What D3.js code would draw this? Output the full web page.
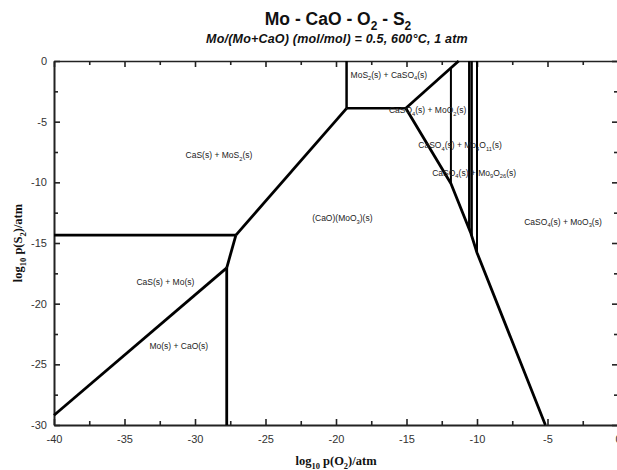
<!DOCTYPE html>
<html>
<head>
<meta charset="utf-8">
<script src="https://cdn.jsdelivr.net/npm/d3@7"></script>
<style>
  html, body { margin: 0; padding: 0; background: #ffffff; }
  svg { display: block; }
</style>
</head>
<body>
<svg id="chart" width="617" height="470"></svg>
<script>
// ---- Axis ticks (log10 p(O2) on x, log10 p(S2) on y) ----
const xMajorTicks = [-40, -35, -30, -25, -20, -15, -10, -5, 0];
const xMinorTicks = [-37.5, -32.5, -27.5, -22.5, -17.5, -12.5, -7.5, -2.5];
const yMajorTicks = [-30, -25, -20, -15, -10, -5, 0];
const yMinorTicks = [-27.5, -22.5, -17.5, -12.5, -7.5, -2.5];

// ---- Phase boundaries, points as [log p(O2), log p(S2)] ----
const casMos2_casMo     = [[-40, -14.35], [-27.1, -14.35]];
const casMos2_caMoO4    = [[-27.1, -14.35], [-19.25, -3.9]];
const casMo_caMoO4      = [[-27.1, -14.35], [-27.75, -17.05]];
const casMo_moCaO       = [[-27.75, -17.05], [-40, -29.2]];
const moCaO_caMoO4      = [[-27.75, -17.05], [-27.75, -30]];
const casMos2_mos2Caso4 = [[-19.25, -3.9], [-19.25, 0]];
const mos2Caso4_caMoO4  = [[-19.25, -3.9], [-15.05, -3.9]];
const mos2Caso4_moO2    = [[-15.05, -3.9], [-11.3, 0]];
const caMoO4_sulfates   = [[-15.05, -3.9], [-11.85, -10.1], [-10.45, -14.15], [-10.0, -15.8], [-5.15, -30]];
const moO2_mo4O11       = [[-11.85, -0.57], [-11.85, -10.1]];
const mo4O11_mo9O26a    = [[-10.55, 0], [-10.55, -13.86]];
const mo4O11_mo9O26b    = [[-10.38, 0], [-10.38, -14.4]];
const mo9O26_moO3       = [[-10.0, 0], [-10.0, -15.8]];

const boundaries = [
  { pts: casMos2_casMo, w: 2.8 },
  { pts: casMos2_caMoO4, w: 2.8 },
  { pts: casMo_caMoO4, w: 2.8 },
  { pts: casMo_moCaO, w: 2.8 },
  { pts: moCaO_caMoO4, w: 2.8 },
  { pts: casMos2_mos2Caso4, w: 2.5 },
  { pts: mos2Caso4_caMoO4, w: 2.5 },
  { pts: mos2Caso4_moO2, w: 2.8 },
  { pts: caMoO4_sulfates, w: 2.8 },
  { pts: moO2_mo4O11, w: 2.0 },
  { pts: mo4O11_mo9O26a, w: 2.4 },
  { pts: mo4O11_mo9O26b, w: 2.4 },
  { pts: mo9O26_moO3, w: 2.0 }
];

// ---- Stability-field labels ({n} marks a subscript) ----
const fieldNames = [
  "CaS(s) + MoS{2}(s)",
  "MoS{2}(s) + CaSO{4}(s)",
  "CaSO{4}(s) + MoO{2}(s)",
  "CaSO{4}(s) + Mo{4}O{11}(s)",
  "CaSO{4}(s) + Mo{9}O{26}(s)",
  "(CaO)(MoO{3})(s)",
  "CaSO{4}(s) + MoO{3}(s)",
  "CaS(s) + Mo(s)",
  "Mo(s) + CaO(s)"
];
const fieldO2 = [-28.3, -16.25, -13.5, -11.2, -10.2, -19.55, -3.9, -32.1, -31.15];
const fieldS2 = [-7.75, -1.15, -4.05, -6.95, -9.2, -12.95, -13.25, -18.2, -23.5];

const titleText = "Mo - CaO - O{2} - S{2}";
const subtitleText = "Mo/(Mo+CaO) (mol/mol)  = 0.5,  600\u00B0C, 1 atm";
const xTitle = "log{10} p(O{2})/atm";
const yTitle = "log{10} p(S{2})/atm";

// ---- Layout ----
const svg = d3.select("#chart");
const plotLeft = 54, plotRight = 618, plotTop = 61, plotBottom = 425;
const x = d3.scaleLinear().domain([-40, 0]).range([plotLeft, plotRight]);
const y = d3.scaleLinear().domain([-30, 0]).range([plotBottom, plotTop]);

const sansFont = "'Liberation Sans', Arial, Helvetica, sans-serif";
const serifFont = "'Liberation Serif', 'Times New Roman', Times, serif";

// Writes a string with {sub} markers into a <text> element
function richText(sel, str, size) {
  const parts = str.split(/(\{[^}]*\})/).filter(s => s.length);
  const subSize = size * 0.68;
  const shift = size * 0.3;
  let lowered = false;
  parts.forEach(p => {
    const isSub = p.startsWith("{");
    const t = sel.append("tspan").text(isSub ? p.slice(1, -1) : p);
    if (isSub) {
      t.attr("font-size", subSize);
      if (!lowered) { t.attr("dy", shift); lowered = true; }
    } else if (lowered) {
      t.attr("dy", -shift); lowered = false;
    }
  });
}

svg.append("rect").attr("width", 617).attr("height", 470).attr("fill", "#ffffff");

// ---- Titles ----
const title = svg.append("text")
  .attr("x", 338).attr("y", 25)
  .attr("text-anchor", "middle")
  .attr("font-family", sansFont).attr("font-weight", "bold")
  .attr("font-size", 17.5).attr("fill", "#111");
richText(title, titleText, 17.5);

svg.append("text")
  .attr("x", 337).attr("y", 43)
  .attr("text-anchor", "middle")
  .attr("font-family", sansFont).attr("font-weight", "bold").attr("font-style", "italic")
  .attr("font-size", 12.5).attr("letter-spacing", 0.2).attr("fill", "#111")
  .text(subtitleText);

// ---- Axes ----
function styleAxis(g, w) {
  g.select(".domain").attr("stroke", "#222").attr("stroke-width", w);
  g.selectAll(".tick line").attr("stroke", "#222").attr("stroke-width", 1.6);
  g.selectAll(".tick text")
    .attr("font-family", sansFont).attr("font-size", 11).attr("fill", "#333");
}
function styleMinor(g) {
  g.select(".domain").remove();
  g.selectAll(".tick line").attr("stroke", "#222").attr("stroke-width", 1.6);
}

const fmt = d => d3.format("d")(d).replace("\u2212", "-");

// bottom
svg.append("g").attr("transform", `translate(0,${plotBottom})`)
  .call(d3.axisBottom(x).tickValues(xMajorTicks).tickSizeInner(-6).tickSizeOuter(0).tickPadding(10).tickFormat(fmt))
  .call(g => styleAxis(g, 2));
svg.append("g").attr("transform", `translate(0,${plotBottom})`)
  .call(d3.axisBottom(x).tickValues(xMinorTicks).tickSizeInner(-4).tickSizeOuter(0).tickFormat(""))
  .call(styleMinor);

// top
svg.append("g").attr("transform", `translate(0,${plotTop})`)
  .call(d3.axisTop(x).tickValues(xMajorTicks).tickSizeInner(-6).tickSizeOuter(0).tickFormat(""))
  .call(g => styleAxis(g, 1.6));
svg.append("g").attr("transform", `translate(0,${plotTop})`)
  .call(d3.axisTop(x).tickValues(xMinorTicks).tickSizeInner(-4).tickSizeOuter(0).tickFormat(""))
  .call(styleMinor);

// left
svg.append("g").attr("transform", `translate(${plotLeft},0)`)
  .call(d3.axisLeft(y).tickValues(yMajorTicks).tickSizeInner(-6).tickSizeOuter(0).tickPadding(7).tickFormat(fmt))
  .call(g => styleAxis(g, 2));
svg.append("g").attr("transform", `translate(${plotLeft},0)`)
  .call(d3.axisLeft(y).tickValues(yMinorTicks).tickSizeInner(-4).tickSizeOuter(0).tickFormat(""))
  .call(styleMinor);

// right
svg.append("g").attr("transform", `translate(${plotRight},0)`)
  .call(d3.axisRight(y).tickValues(yMajorTicks).tickSizeInner(-6).tickSizeOuter(0).tickFormat(""))
  .call(g => styleAxis(g, 1.6));
svg.append("g").attr("transform", `translate(${plotRight},0)`)
  .call(d3.axisRight(y).tickValues(yMinorTicks).tickSizeInner(-4).tickSizeOuter(0).tickFormat(""))
  .call(styleMinor);

// axis titles
const xt = svg.append("text")
  .attr("x", 336).attr("y", 465)
  .attr("text-anchor", "middle")
  .attr("font-family", serifFont).attr("font-weight", "bold")
  .attr("font-size", 12.5).attr("fill", "#111");
richText(xt, xTitle, 12.5);

const yt = svg.append("text")
  .attr("transform", "translate(22,243) rotate(-90)")
  .attr("text-anchor", "middle")
  .attr("font-family", serifFont).attr("font-weight", "bold")
  .attr("font-size", 12.5).attr("fill", "#111");
richText(yt, yTitle, 12.5);

// ---- Phase boundaries ----
const line = d3.line().x(d => x(d[0])).y(d => y(d[1]));
svg.append("g").selectAll("path")
  .data(boundaries)
  .join("path")
  .attr("d", d => line(d.pts))
  .attr("fill", "none")
  .attr("stroke", "#000")
  .attr("stroke-width", d => d.w)
  .attr("stroke-linejoin", "round");

// ---- Field labels ----
const labelSize = 8.5;
const lg = svg.append("g");
fieldNames.forEach((name, i) => {
  const t = lg.append("text")
    .attr("x", x(fieldO2[i]))
    .attr("y", y(fieldS2[i]) + labelSize * 0.35)
    .attr("text-anchor", "middle")
    .attr("font-family", sansFont)
    .attr("font-size", labelSize)
    .attr("fill", "#222");
  richText(t, name, labelSize);
});
</script>
</body>
</html>
